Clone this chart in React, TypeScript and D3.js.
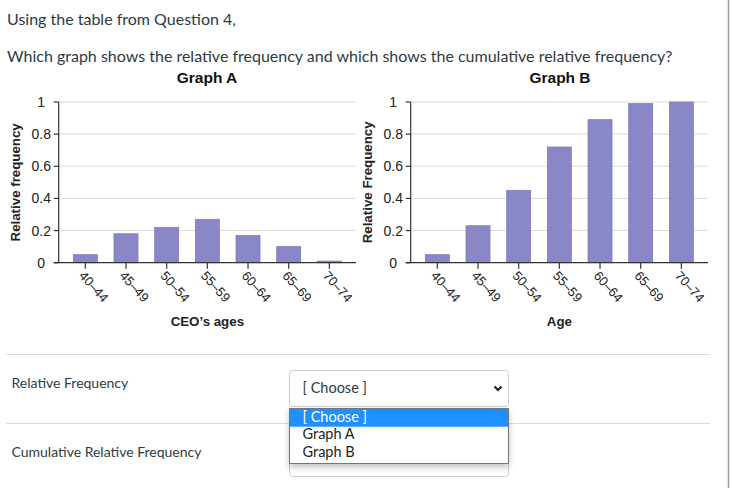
import React from "react";
import * as d3 from "d3";

const categories = ["40–44", "45–49", "50–54", "55–59", "60–64", "65–69", "70–74"];
const relFreq = [0.05, 0.18, 0.22, 0.27, 0.17, 0.1, 0.01];
const cumRelFreq = [0.05, 0.23, 0.45, 0.72, 0.89, 0.99, 1.0];
const yTicks = [0, 0.2, 0.4, 0.6, 0.8, 1];
const dropdownOptions = ["[ Choose ]", "Graph A", "Graph B"];

const W = 731;
const H = 488;
const CHART_FONT = "'Liberation Sans', Arial, sans-serif";
const PAGE_FONT = "Lato, 'Open Sans', sans-serif";
const BAR = "#8a87c6";

type ChartProps = {
  x0: number;
  x1: number;
  values: number[];
  yTitle: string;
  xTitle: string;
};

function Chart({ x0, x1, values, yTitle, xTitle }: ChartProps) {
  const y0 = 262.7;
  const y1 = 102;
  const x = d3.scaleBand<string>().domain(categories).range([x0, x1]).paddingInner(0.41).paddingOuter(0.36);
  const y = d3.scaleLinear().domain([0, 1]).range([y0, y1]);
  const fmt = (v: number) => (v === 0 ? "0" : v === 1 ? "1" : d3.format(".1f")(v));
  const midY = (y0 + y1) / 2;
  return (
    <g>
      {yTicks.filter((t) => t > 0).map((t) => (
        <line key={"g" + t} x1={x0} x2={x1} y1={y(t)} y2={y(t)} stroke="#dcdcdc" strokeWidth={1} />
      ))}
      {categories.map((c, i) => (
        <rect
          key={c}
          x={x(c)!}
          width={x.bandwidth()}
          y={y(values[i])}
          height={y0 - y(values[i])}
          fill={BAR}
          stroke="#7f7cc0"
          strokeWidth={0.8}
        />
      ))}
      <line x1={x0} x2={x0} y1={y1} y2={y0} stroke="#333" strokeWidth={1.2} />
      <line x1={x0 - 5} x2={x1} y1={y0} y2={y0} stroke="#333" strokeWidth={1.2} />
      {yTicks.map((t) => (
        <g key={"t" + t}>
          <line x1={x0 - 5} x2={x0} y1={y(t)} y2={y(t)} stroke="#333" strokeWidth={1.2} />
          <text x={x0 - 17.5} y={y(t) + 5} textAnchor="middle" fontSize={14} fontFamily={CHART_FONT} fill="#222">
            {fmt(t)}
          </text>
        </g>
      ))}
      {categories.map((c) => {
        const cx = x(c)! + x.bandwidth() / 2;
        return (
          <g key={"x" + c}>
            <line x1={cx} x2={cx} y1={y0} y2={y0 + 6} stroke="#333" strokeWidth={1.2} />
            <text
              transform={`translate(${cx - 7},${y0 + 13.5}) rotate(48)`}
              fontSize={13}
              fontFamily={CHART_FONT}
              fill="#222"
            >
              {c}
            </text>
          </g>
        );
      })}
      <text
        transform={`translate(${x0 - 39},${midY}) rotate(-90)`}
        textAnchor="middle"
        fontSize={13.3}
        fontWeight="bold"
        fontFamily={CHART_FONT}
        fill="#222"
      >
        {yTitle}
      </text>
      <text x={(x0 + x1) / 2} y={326} textAnchor="middle" fontSize={13.3} fontWeight="bold" fontFamily={CHART_FONT} fill="#222">
        {xTitle}
      </text>
    </g>
  );
}

export default function App() {
  const selX = 289.5;
  const selW = 219;
  return (
    <svg width={W} height={H} style={{ position: "absolute", left: 0, top: 0, background: "#fff" }}>
      <defs>
        <filter id="shadow" x="-10%" y="-20%" width="120%" height="150%">
          <feDropShadow dx="0" dy="3" stdDeviation="3" floodColor="#000" floodOpacity="0.25" />
        </filter>
      </defs>
      <rect width={W} height={H} fill="#fff" />
      <text x={7} y={25} fontSize={16} fontFamily={PAGE_FONT} fill="#2d3b45">
        Using the table from Question 4,
      </text>
      <text x={7} y={61.7} fontSize={16} fontFamily={PAGE_FONT} fill="#2d3b45">
        Which graph shows the relative frequency and which shows the cumulative relative frequency?
      </text>
      <text x={207} y={83.3} textAnchor="middle" fontSize={15.5} fontWeight="bold" fontFamily={CHART_FONT} fill="#111">
        Graph A
      </text>
      <text x={560} y={83.3} textAnchor="middle" fontSize={15.5} fontWeight="bold" fontFamily={CHART_FONT} fill="#111">
        Graph B
      </text>

      <Chart x0={58.7} x1={356} values={relFreq} yTitle="Relative frequency" xTitle="CEO’s ages" />
      <Chart x0={410.7} x1={708} values={cumRelFreq} yTitle="Relative Frequency" xTitle="Age" />

      <line x1={728.5} x2={728.5} y1={0} y2={H} stroke="#9a9a9a" strokeWidth={1.5} />

      <line x1={6} x2={710} y1={354.5} y2={354.5} stroke="#dadada" strokeWidth={1} />
      <line x1={6} x2={710} y1={423.5} y2={423.5} stroke="#dadada" strokeWidth={1} />

      <text x={11.5} y={387.7} fontSize={14} fontFamily={PAGE_FONT} fill="#2d3b45">
        Relative Frequency
      </text>
      <text x={11.5} y={456.5} fontSize={14} fontFamily={PAGE_FONT} fill="#2d3b45">
        Cumulative Relative Frequency
      </text>

      {/* select 1 */}
      <rect x={selX} y={370.5} width={selW} height={36} rx={3} fill="#fff" stroke="#c7cdd1" strokeWidth={1} />
      <text x={302.5} y={393.3} fontSize={14.5} fontFamily={PAGE_FONT} fill="#2d3b45">
        {dropdownOptions[0]}
      </text>
      <path d="M494.5,386.5 L498,390 L501.5,386.5" fill="none" stroke="#222" strokeWidth={2.2} />

      {/* select 2 (mostly hidden) */}
      <rect x={selX} y={440.5} width={selW} height={36} rx={3} fill="#fff" stroke="#c7cdd1" strokeWidth={1} />

      {/* dropdown list */}
      <g filter="url(#shadow)">
        <rect x={selX} y={408.5} width={selW} height={55} fill="#fff" stroke="#767676" strokeWidth={1} />
      </g>
      <rect x={selX + 0.5} y={409} width={selW - 1} height={17.7} fill="#1e90ff" />
      {dropdownOptions.map((o, i) => (
        <text
          key={o}
          x={302.5}
          y={421.7 + i * 17.5}
          fontSize={14.5}
          fontFamily={PAGE_FONT}
          fill={i === 0 ? "#fff" : "#222"}
        >
          {o}
        </text>
      ))}
    </svg>
  );
}
